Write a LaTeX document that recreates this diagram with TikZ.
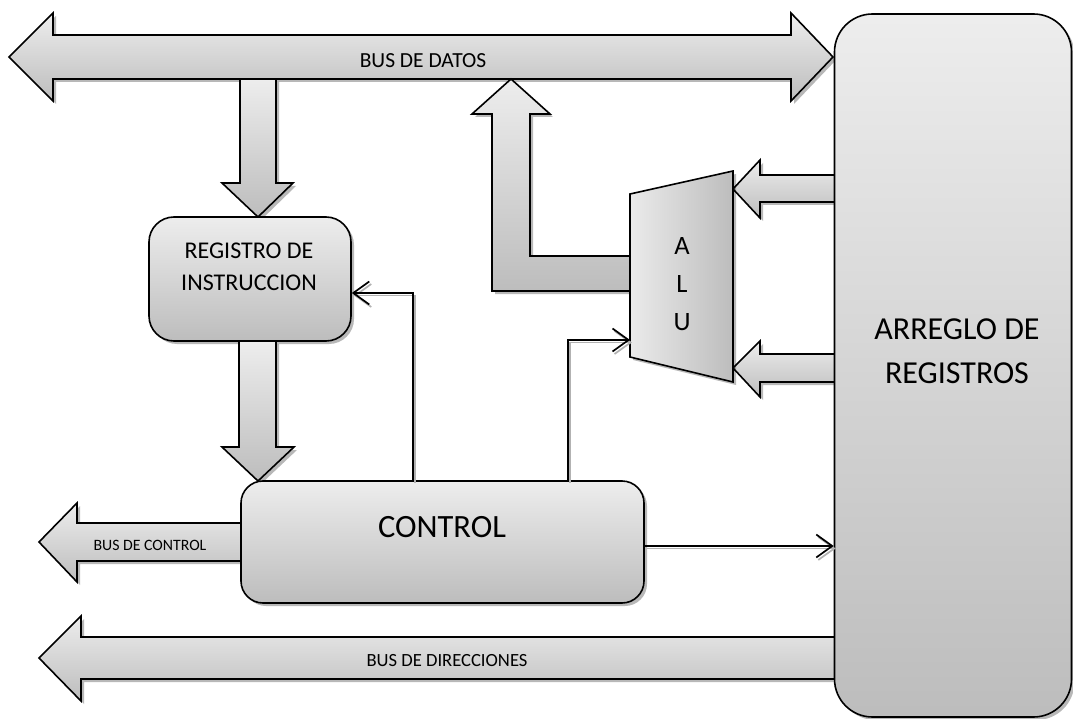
\documentclass[tikz,border=0pt]{standalone}
\usepackage{fontspec}
\setmainfont{Carlito}
\usetikzlibrary{arrows.meta,shadows}
\begin{document}
\begin{tikzpicture}[x=1pt,y=-1pt,
  shadowed/.style={drop shadow={shadow xshift=3pt,shadow yshift=-3pt,fill=black,opacity=0.28}},
  blk/.style={draw=black, line width=1.6pt, top color=gray!14, bottom color=gray!52, shadowed},
  blkh/.style={draw=black, line width=1.6pt, left color=gray!16, right color=gray!52, shadowed},
  box/.style={draw=black, line width=1.6pt, top color=gray!14, bottom color=gray!52, shadowed, inner sep=0pt},
  tarrow/.style={draw=black, line width=1.7pt, -{Straight Barb[length=16pt,width=23pt]},
    preaction={draw=black!30, line width=1.7pt, transform canvas={shift={(2pt,-2.5pt)}}}},
  lbl/.style={font=\fontsize{#1}{#1}\selectfont, inner sep=0pt}
]
\useasboundingbox (0,0) rectangle (1073,719);

% BUS DE DATOS (double block arrow)
\draw[blk] (9,57) -- (53,13) -- (53,35) -- (791,35) -- (791,13) -- (833,57)
  -- (791,101) -- (791,79) -- (53,79) -- (53,101) -- cycle;
% down arrow bus -> RI
\draw[blk] (240,79) -- (276,79) -- (276,183) -- (293,183) -- (258,217)
  -- (222,183) -- (240,183) -- cycle;
% ALU output to data bus (L-shaped arrow)
\draw[blk] (630,256) -- (530,256) -- (530,114) -- (550,114) -- (511,79)
  -- (472,114) -- (492,114) -- (492,291) -- (630,291) -- cycle;
% register arrows into ALU
\draw[blk] (733,189) -- (760,160) -- (760,175) -- (835,175) -- (835,202)
  -- (760,202) -- (760,218) -- cycle;
\draw[blk] (733,368) -- (760,341) -- (760,354) -- (835,354) -- (835,382)
  -- (760,382) -- (760,397) -- cycle;
% ALU
\draw[blkh] (630,194) -- (733,171) -- (733,382) -- (630,357) -- cycle;
\coordinate (ALUin) at (630,340);
\node[lbl=26.5] (A) at (682,246) {A};
\node[lbl=26.5] (L) at (682,284) {L};
\node[lbl=26.5] (U) at (682,322) {U};

% BUS DE CONTROL
\draw[blk] (39,542) -- (77,503) -- (77,523) -- (243,523) -- (243,561)
  -- (77,561) -- (77,582) -- cycle;
% BUS DE DIRECCIONES
\draw[blk] (39,658) -- (81,616) -- (81,637) -- (836,637) -- (836,679)
  -- (81,679) -- (81,701) -- cycle;

% boxes
\node[box, minimum width=202pt, minimum height=124pt, rounded corners=25pt] (RI) at (250,279) {};
\draw[blk] (239,341) -- (276,341) -- (276,447) -- (294,447) -- (258,481)
  -- (222,447) -- (239,447) -- cycle;
\node[box, minimum width=403pt, minimum height=122pt, rounded corners=22pt] (CTRL) at (442.5,542) {};
\node[box, minimum width=237pt, minimum height=703pt, rounded corners=38pt] (REG) at (953,365.5) {};

% texts
\node[lbl=21.5] (tdatos) at (423,61) {BUS DE DATOS};
\node[lbl=15.8] (tbc) at (150,545) {BUS DE CONTROL};
\node[lbl=18.6] (tdir) at (447,661) {BUS DE DIRECCIONES};
\node[font=\fontsize{24}{32}\selectfont, align=center, inner sep=0pt] (tri) at (249,267) {REGISTRO DE\\INSTRUCCION};
\node[lbl=32.5] (tctrl) at (442,527) {CONTROL};
\node[font=\fontsize{32}{44}\selectfont, align=center, inner sep=0pt] (treg) at (957,351) {ARREGLO DE\\REGISTROS};

% thin control arrows
\coordinate (k1) at (413,0);
\coordinate (k2) at (568,0);
\coordinate (ce) at ([yshift=-4pt]CTRL.east);
\draw[tarrow] (k1 |- CTRL.north) |- ([yshift=-14pt]RI.east);
\draw[tarrow] (k2 |- CTRL.north) |- (ALUin);
\draw[tarrow] (ce) -- (ce -| REG.west);
\end{tikzpicture}
\end{document}
